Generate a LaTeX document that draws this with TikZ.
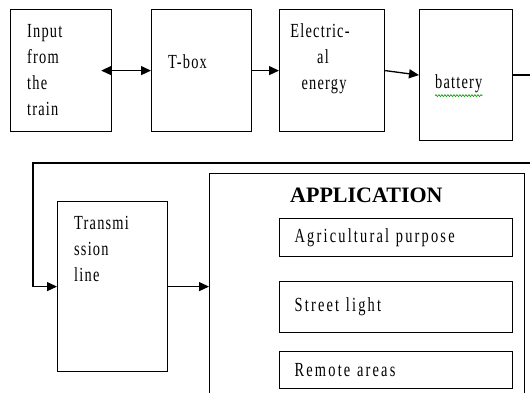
\documentclass[tikz,border=0pt]{standalone}
\usepackage{fontspec}
\setmainfont{Liberation Serif}
\newfontfamily\narrowfont[FakeStretch=0.72,LetterSpace=6]{Liberation Serif}
\newfontfamily\widefont[FakeStretch=0.72,LetterSpace=11]{Liberation Serif}
\usetikzlibrary{positioning}
\usetikzlibrary{arrows.meta}
\usetikzlibrary{decorations.pathmorphing}

\begin{document}
\begin{tikzpicture}[x=1pt,y=-1pt,
    blok/.style={draw,line width=1.2pt,anchor=north west,inner sep=0pt},
    subblok/.style={blok,minimum width=233pt,text width=203pt,align=left,
        font=\widefont\fontsize{20}{26}\selectfont},
    txt/.style={anchor=north west,align=left,inner sep=0pt,
        font=\narrowfont\fontsize{20}{26}\selectfont},
    link/.style={line width=1.3pt,arrows = -{Triangle[length=10pt,width=9pt]}},
    squiggle/.style={green!60!black,line width=0.6pt,decorate,
        decoration={snake,amplitude=1pt,segment length=3pt}}]

            % \draw [help lines] (0,0) grid (530,393);
            \useasboundingbox (0,0) rectangle (530,393);
            \clip (0,0) rectangle (530,393);

            \path   (10,9) node (input) [blok,minimum width=101pt,minimum height=122pt] {}
                    (151,9) node (tbox) [blok,minimum width=100pt,minimum height=122pt] {}
                    (279,9) node (energy) [blok,minimum width=105pt,minimum height=122pt] {}
                    (419,9) node (battery) [blok,minimum width=93pt,minimum height=131pt] {}

                    (57,201) node (line) [blok,minimum width=110pt,minimum height=170pt] {}
                    (209,173) node (app) [blok,minimum width=315pt,minimum height=240pt] {}

                    (279,218) node (agri) [subblok,minimum height=38pt] {Agricultural purpose}
                    (279,281) node (street) [subblok,minimum height=51pt] {Street light}
                    (279,351) node (remote) [subblok,minimum height=37pt] {Remote areas};

            \coordinate (loop) at (33,163);

            \node [txt] (inputtext) at ([shift={(17,15)}]input.north west) {Input\\from\\the\\train};
            \node [txt] (tboxtext) at ([shift={(17,45)}]tbox.north west) {T-box};
            \node [txt,align=center,anchor=north] (energytext) at ([shift={(41,14)}]energy.north west) {Electric-\\\hspace*{6pt}al\\\hspace*{8pt}energy};
            \node [txt] (batterytext) at ([shift={(16,65)}]battery.north west) {battery};
            \node [txt] (linetext) at ([shift={(17,15)}]line.north west) {Transmi\\ssion\\line};
            \node [anchor=north west,inner sep=0pt,font=\bfseries\fontsize{22}{26}\selectfont] (apptitle)
                at ([shift={(81,15)}]app.north west) {APPLICATION};

            \draw[squiggle] ([yshift=-3pt]batterytext.south west) -- ([yshift=-3pt]batterytext.south east);

            \draw[link,arrows = {Triangle[length=10pt,width=9pt]}-{Triangle[length=10pt,width=9pt]}] ([xshift=-11pt]input.east) -- (tbox.west);
            \draw[link] (tbox.east) -- (energy.west);
            \draw[link] (energy.east) -- (battery.west);
            \draw[link] (battery.east) -- ++(30,0) |- (loop) |- (line.west);
            \draw[link] (line.east) -- (line.east -| app.west);
\end{tikzpicture}
\end{document}
